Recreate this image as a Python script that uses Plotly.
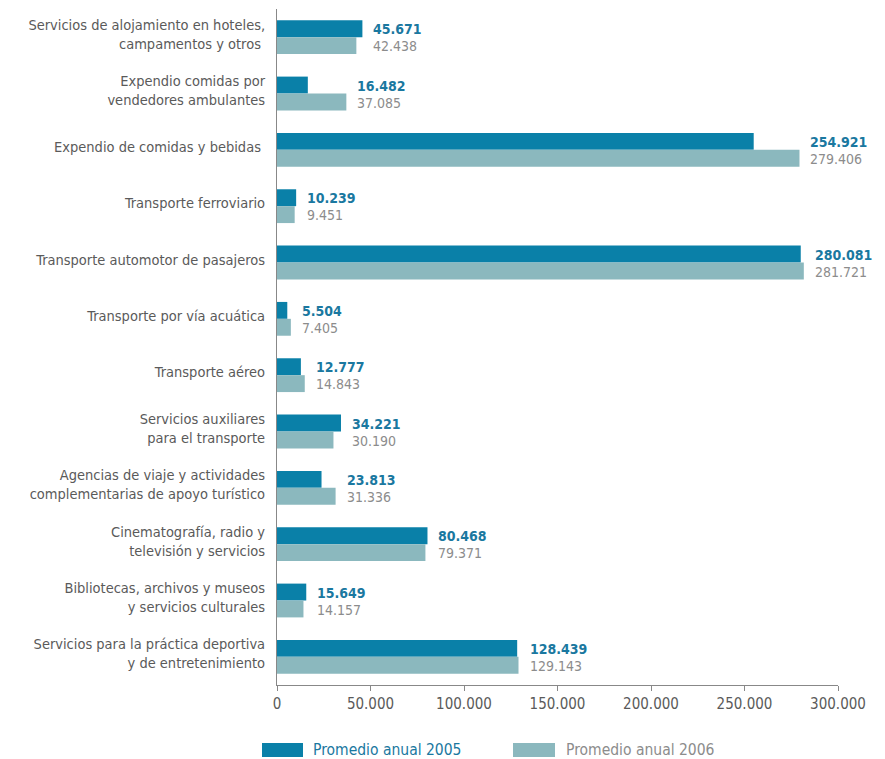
import plotly.graph_objects as go

categories = [
    "Servicios de alojamiento en hoteles,<br>campamentos y otros ",
    "Expendio comidas por<br>vendedores ambulantes",
    "Expendio de comidas y bebidas ",
    "Transporte ferroviario",
    "Transporte automotor de pasajeros",
    "Transporte por vía acuática",
    "Transporte aéreo",
    "Servicios auxiliares<br>para el transporte",
    "Agencias de viaje y actividades<br>complementarias de apoyo turístico",
    "Cinematografía, radio y<br>televisión y servicios",
    "Bibliotecas, archivos y museos<br>y servicios culturales",
    "Servicios para la práctica deportiva<br>y de entretenimiento",
]
values_2005 = [45671, 16482, 254921, 10239, 280081, 5504, 12777, 34221, 23813, 80468, 15649, 128439]
values_2006 = [42438, 37085, 279406, 9451, 281721, 7405, 14843, 30190, 31336, 79371, 14157, 129143]
series_names = ["Promedio anual 2005", "Promedio anual 2006"]
tick_values = [0, 50000, 100000, 150000, 200000, 250000, 300000]
tick_labels = ["0", "50.000", "100.000", "150.000", "200.000", "250.000", "300.000"]

C05 = "#0a80a8"
C06 = "#8bb8be"
T05 = "#1a78a0"
T06 = "#8c8c8c"
GRAY = "#5a5a5a"
FONT = "DejaVu Sans Condensed, Liberation Sans Narrow, sans-serif"

OFF = 8  # page body margin
W, H = 885 - OFF, 759 - OFF
# target page pixels of plot area
PL, PR, PT, PB = 277, 838, 9, 685
L, R, T, B = PL - OFF, W - (PR - OFF), PT - OFF, H - (PB - OFF)
PW, PH = W - L - R, H - T - B


def px(x):
    return (x - PL) / PW


def py(y):
    return (PB - y) / PH


def fmt(v):
    return f"{v:,}".replace(",", ".")


fig = go.Figure()
fig.add_trace(go.Bar(y=categories, x=values_2005, orientation="h", name=series_names[0],
                     marker=dict(color=C05, line=dict(width=0)), showlegend=False))
fig.add_trace(go.Bar(y=categories, x=values_2006, orientation="h", name=series_names[1],
                     marker=dict(color=C06, line=dict(width=0)), showlegend=False))

annotations = []
for c, a, b in zip(categories, values_2005, values_2006):
    m = max(a, b)
    annotations.append(dict(x=m, y=c, xref="x", yref="y", text=fmt(a), showarrow=False,
                            xanchor="left", yanchor="middle", xshift=9, yshift=8,
                            font=dict(family=FONT, size=14, color=T05, weight=600)))
    annotations.append(dict(x=m, y=c, xref="x", yref="y", text=fmt(b), showarrow=False,
                            xanchor="left", yanchor="middle", xshift=9, yshift=-9,
                            font=dict(family=FONT, size=14, color=T06)))

# custom legend
shapes = []
legend_items = [(262, 303, 311, C05, T05, series_names[0]),
                (513, 555, 564, C06, T06, series_names[1])]
for x0, x1, xt, col, tcol, name in legend_items:
    shapes.append(dict(type="rect", xref="paper", yref="paper", x0=px(x0), x1=px(x1),
                       y0=py(757), y1=py(743), fillcolor=col, line=dict(width=0)))
    annotations.append(dict(x=px(xt), y=py(750), xref="paper", yref="paper", text=name,
                            showarrow=False, xanchor="left", yanchor="middle",
                            font=dict(family=FONT, size=15.5, color=tcol)))

fig.update_layout(
    width=W, height=H,
    margin=dict(l=L, r=R, t=T, b=B, autoexpand=False),
    paper_bgcolor="white", plot_bgcolor="white",
    barmode="group", bargap=0.4, bargroupgap=0,
    annotations=annotations, shapes=shapes,
    font=dict(family=FONT, color=GRAY, size=14.5),
    xaxis=dict(range=[0, 300000], tickvals=tick_values, ticktext=tick_labels,
               showgrid=False, zeroline=False, showline=True, linecolor="#888888", linewidth=1,
               ticks="outside", ticklen=5, tickcolor="#888888", automargin=False,
               tickfont=dict(family=FONT, size=15, color=GRAY)),
    yaxis=dict(autorange="reversed", showgrid=False, zeroline=False, showline=True,
               linecolor="#888888", linewidth=1, ticks="", ticklabelstandoff=8,
               ticklabelshift=3, automargin=False,
               tickfont=dict(family=FONT, size=14.5, color=GRAY)),
)

fig.write_html("out.html")
